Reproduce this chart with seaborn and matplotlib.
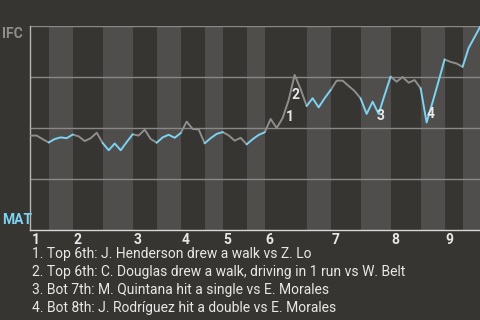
import numpy as np
import pandas as pd
import seaborn as sns
import matplotlib
matplotlib.use("Agg")
import matplotlib.pyplot as plt

# ---------------- data ----------------
away_team = "IFC"
home_team = "MAT"
inning_labels = ["1", "2", "3", "4", "5", "6", "7", "8", "9"]
# play index where each half-inning starts (top1, bot1, top2, ...)
half_starts = [0, 3, 7, 12, 17, 21, 25, 29, 32, 36, 39, 46, 50, 55, 60, 65, 69, 72]
last_play = 75
# away (IFC) win probability after each play
win_prob = [0.463, 0.463, 0.445, 0.429, 0.446, 0.454, 0.450, 0.468, 0.459, 0.436,
            0.450, 0.477, 0.426, 0.391, 0.424, 0.391, 0.431, 0.469, 0.463, 0.492,
            0.446, 0.428, 0.454, 0.467, 0.452, 0.475, 0.531, 0.495, 0.493, 0.425,
            0.450, 0.471, 0.480, 0.464, 0.438, 0.452, 0.420, 0.445, 0.466, 0.479,
            0.544, 0.500, 0.549, 0.637, 0.760, 0.690, 0.608, 0.646, 0.601, 0.646,
            0.686, 0.732, 0.732, 0.706, 0.681, 0.645, 0.569, 0.629, 0.569, 0.662,
            0.752, 0.727, 0.750, 0.722, 0.735, 0.695, 0.527, 0.627, 0.730, 0.836,
            0.824, 0.816, 0.800, 0.892, 0.946, 1.000]
event_labels = ["1", "2", "3", "4"]
event_x = [43.2, 44.2, 58.4, 66.6]
event_y = [0.554, 0.662, 0.559, 0.569]
event_notes = [
    "1. Top 6th: J. Henderson drew a walk vs Z. Lo",
    "2. Top 6th: C. Douglas drew a walk, driving in 1 run vs W. Belt",
    "3. Bot 7th: M. Quintana hit a single vs E. Morales",
    "4. Bot 8th: J. Rodríguez hit a double vs E. Morales",
]

# ---------------- style ----------------
BG = "#373531"
BAND = "#4f4e4c"
GRID = "#8a8886"
AWAY_C = "#8e8e8e"
HOME_C = "#7dd3f2"
TXT = "#e8e8e8"

sns.set_theme(style="dark")
plt.rcParams["font.family"] = ["Roboto", "DejaVu Sans"]

fig = plt.figure(figsize=(4.8, 3.2), dpi=100, facecolor=BG)
ax = fig.add_axes([30 / 480, 90 / 320, 450 / 480, 204 / 320])
ax.set_facecolor(BG)

# bands for bottom halves
bounds = half_starts + [last_play]
for h in range(len(half_starts)):
    if h % 2 == 1:
        ax.axvspan(bounds[h], bounds[h + 1], color=BAND, lw=0, zorder=0)

# line segments by half-inning
rows = []
for h in range(len(half_starts)):
    s, e = bounds[h], bounds[h + 1]
    side = "top" if h % 2 == 0 else "bot"
    for i in range(s, e + 1):
        rows.append({"play": i, "wp": win_prob[i], "seg": h, "side": side})
df = pd.DataFrame(rows)
sns.lineplot(data=df, x="play", y="wp", hue="side", units="seg", estimator=None,
             palette={"top": AWAY_C, "bot": HOME_C}, sort=False, lw=1.4,
             legend=False, ax=ax, zorder=3)

ax.set_xlim(-0.12, last_play - 0.1)
ax.set_ylim(0, 1)
for g in [0.25, 0.5, 0.75, 1.0]:
    ax.axhline(g, color=GRID, lw=1, zorder=1)
ax.grid(False)

for sp in ["top", "right"]:
    ax.spines[sp].set_visible(False)
ax.spines["left"].set_color("#b5b5b5")
ax.spines["left"].set_linewidth(1)
ax.spines["bottom"].set_color("#d8d8d8")
ax.spines["bottom"].set_linewidth(1)
ax.set_xticks([])
ax.set_yticks([])
ax.set_xlabel("")
ax.set_ylabel("")

# inning labels at start of each top half
for k, lab in enumerate(inning_labels):
    ax.annotate(lab, xy=(half_starts[2 * k], 0), xycoords="data",
                xytext=(1, -3), textcoords="offset pixels",
                ha="left", va="top", fontsize=10, fontweight="bold", color=TXT)

# team labels
fig.text(2 / 480, 1 - 27 / 320, away_team, ha="left", va="top",
         fontsize=10, fontweight="bold", color=AWAY_C)
fig.text(2 / 480, 1 - 227 / 320, home_team, ha="left", va="bottom",
         fontsize=10, fontweight="bold", color=HOME_C)

# event markers
for lab, x, y in zip(event_labels, event_x, event_y):
    ax.text(x, y, lab, ha="center", va="center", fontsize=10,
            fontweight="bold", color=TXT, zorder=5)

# notes
for j, note in enumerate(event_notes):
    fig.text(32 / 480, 1 - (254 + 18 * j) / 320, note, ha="left", va="center",
             fontsize=10, color=TXT)

fig.savefig("out.png", dpi=100, facecolor=BG)
